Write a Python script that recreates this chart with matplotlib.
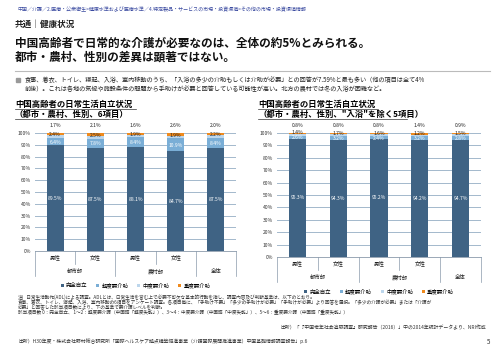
import matplotlib
matplotlib.use('Agg')
import matplotlib.pyplot as plt
from matplotlib.lines import Line2D
from matplotlib.patches import Rectangle

plt.rcParams['font.family'] = ['Noto Sans CJK JP', 'DejaVu Sans']

# data
sub_cats = ['男性', '女性', '男性', '女性', '']
groups = ['都市部', '農村部', '全体']
group_pos = [0.5, 2.5, 4.0]
legend_names = ['完全自立', '軽度要介助', '中度要介助', '重度要介助']

left_full = [89.5, 87.5, 88.1, 84.7, 87.5]
left_mild = [6.4, 7.8, 8.4, 10.9, 8.4]
left_mod = [2.4, 2.5, 1.9, 1.9, 2.2]
left_sev = [1.7, 2.1, 1.6, 2.6, 2.0]

right_full = [95.3, 94.3, 95.2, 94.2, 94.7]
right_mild = [2.6, 3.2, 2.4, 3.2, 2.8]
right_mod = [1.4, 1.7, 1.6, 1.2, 1.5]
right_sev = [0.8, 0.8, 0.8, 1.4, 0.9]

colors = ['#3f6384', '#7aaed6', '#bcd6ec', '#f08a1c']
W, H = 500, 353

fig = plt.figure(figsize=(5, 3.53), dpi=100)


def T(x, y, s, size=4, **kw):
    fig.text(x / W, 1 - y / H, s, fontsize=size, va='center', **kw)


def hline(x0, x1, y, color='#333333', lw=0.5):
    fig.add_artist(Line2D([x0 / W, x1 / W], [1 - y / H, 1 - y / H],
                          color=color, lw=lw, transform=fig.transFigure))


def chart(x0, x1, ytop, ybot, full, mild, mod, sev):
    ax = fig.add_axes([x0 / W, 1 - ybot / H, (x1 - x0) / W, (ybot - ytop) / H])
    xs = range(len(full))
    series = [full, mild, mod, sev]
    bottom = [0] * len(full)
    for vals, c, name in zip(series, colors, legend_names):
        ax.bar(xs, vals, 0.42, bottom=bottom, color=c, label=name, zorder=3)
        bottom = [b + v for b, v in zip(bottom, vals)]
    for i in xs:
        ax.text(i, full[i] / 2, f'{full[i]}%', color='white', ha='center',
                va='center', fontsize=3.6, zorder=4)
        ax.text(i, full[i] + mild[i] / 2 - 0.5, f'{mild[i]}%', color='white',
                ha='center', va='center', fontsize=3.6, zorder=4)
        ax.text(i, full[i] + mild[i] + mod[i] / 2 + 1.5, f'{mod[i]}%',
                color='#222222', ha='center', va='center', fontsize=3.6, zorder=4)
        ax.text(i, 106, f'{sev[i]}%', color='#222222', ha='center',
                va='center', fontsize=3.6, zorder=4)
    ax.set_xlim(-0.5, 4.5)
    ax.set_ylim(0, 100)
    ax.set_yticks(range(0, 101, 10))
    ax.set_yticklabels([f'{v}%' for v in range(0, 101, 10)], fontsize=3.6,
                       color='#333333')
    ax.set_xticks([])
    ax.tick_params(axis='y', length=0, pad=3)
    ax.grid(axis='y', color='#a3b8cc', lw=0.7, zorder=0)
    for s in ['left', 'right', 'top']:
        ax.spines[s].set_visible(False)
    ax.spines['bottom'].set_color('#8a9aab')
    ax.spines['bottom'].set_linewidth(0.6)
    # category table below axis
    tr = ax.get_xaxis_transform()
    hpx = ybot - ytop
    r1 = -11 / hpx
    r2 = -23 / hpx
    for b in [-0.5, 1.5, 3.5, 4.5]:
        ax.add_line(Line2D([b, b], [0, r2 - 0.02], color='#8a9aab', lw=0.5,
                           transform=tr, clip_on=False))
    for b in [0.5, 2.5]:
        ax.add_line(Line2D([b, b], [0, r1 - 0.02], color='#8a9aab', lw=0.5,
                           transform=tr, clip_on=False))
    for i, s in enumerate(sub_cats):
        ax.text(i, r1 / 2 - 0.01, s, transform=tr, ha='center', va='center',
                fontsize=3.9, color='#222222')
    for p, g in zip(group_pos, groups):
        ax.text(p, (r1 + r2) / 2 - 0.03, g, transform=tr, ha='center',
                va='center', fontsize=3.9, color='#222222')
    ax.legend(loc='upper center', bbox_to_anchor=(0.5, r2 - 0.05), ncol=4,
              frameon=False, fontsize=3.9, handlelength=0.6, handleheight=0.6,
              handletextpad=0.4, columnspacing=1.6, borderpad=0)
    return ax


# header
T(18, 10, '中国／介護／2.医療・公衆衛生>健康水準および医療水準／4.特定製品・サービスの市場・投資環境>その他の市場・投資環境情報',
  size=3.6, color='#3a4aa0')
T(15, 24, '共通｜健康状況', size=6.2, weight='bold', color='#222222')
T(15, 43, '中国高齢者で日常的な介護が必要なのは、全体の約5%とみられる。',
  size=8.4, weight='bold', color='#111111')
T(15, 57, '都市・農村、性別の差異は顕著ではない。', size=8.4, weight='bold',
  color='#111111')
hline(15, 490, 71, color='#bbbbbb', lw=0.8)
fig.add_artist(Rectangle((16 / W, 1 - 82 / H), 4 / W, 4 / H, color='#999999',
                         transform=fig.transFigure))
T(25, 80, '食事、着衣、トイレ、寝起、入浴、室内移動のうち、「入浴の多少の介助もしくは介助が必要」との回答が7.59%と最も多い（他の項目は全て4%',
  size=4.45, color='#222222')
T(25, 89, '前後）。これは各地の気候や施設条件の問題から手助けが必要と回答している可能性が高い。北方の農村では冬の入浴が困難など。',
  size=4.45, color='#222222')

# chart titles
T(15, 104, '中国高齢者の日常生活自立状況', size=6.0, weight='bold')
T(15, 114, '（都市・農村、性別、6項目）', size=6.0, weight='bold')
hline(15, 136, 109, lw=0.5)
hline(15, 118, 119, lw=0.5)
T(258, 104, '中国高齢者の日常生活自立状況', size=6.0, weight='bold')
T(258, 114, '（都市・農村、性別、"入浴"を除く5項目）', size=6.0, weight='bold')
hline(258, 378, 109, lw=0.5)
hline(258, 407, 119, lw=0.5)

chart(35, 236, 133, 251, left_full, left_mild, left_mod, left_sev)
chart(277, 481, 133, 257, right_full, right_mild, right_mod, right_sev)

# notes
notes = [
    '注）日常生活動作(ADL)による調査。ADLとは、日常生活を営む上で必要不可欠な基本的行動を指し、調査内容及び判断基準は、以下のとおり。',
    '食事、着衣、トイレ、寝起、入浴、室内移動の6項目をアンケート調査。各項目毎に、「手助け不要」「多少の手助けが必要」「手助けが必要」より回答を選択。「多少の介護が必要」または「介護が',
    '必要」と回答した該当項目数により、下の基準で要介護レベルを判断。',
    '該当項目数 0：完全自立、 1～2：軽度要介護（中国語「軽度失能」）、3～4：中度要介護（中国語「中度失能」）、5～6：重度要介護（中国語「重度失能」）',
]
for k, s in enumerate(notes):
    T(18, 297 + k * 5.3, s, size=3.35, color='#333333')
T(486, 328, '出所）「『中国老年社会追跡調査』研究報告（2016）」中の2014年統計データより、NRI作成',
  size=3.5, color='#333333', ha='right')
T(18, 341, '出所）H30年度・株式会社野村総合研究所「国際ヘルスケア拠点構築促進事業（介護国際展開推進事業）中国基礎情報調査報告」p.6',
  size=3.5, color='#333333')
T(487, 342, '5', size=4.5, color='#333333')

fig.savefig('out.png', dpi=100)
